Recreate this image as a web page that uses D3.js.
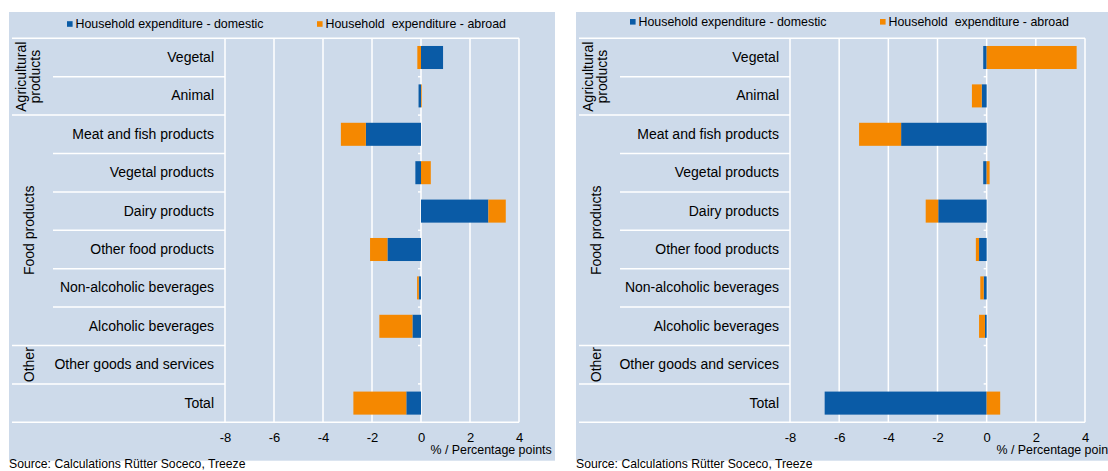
<!DOCTYPE html>
<html>
<head>
<meta charset="utf-8">
<script src="https://cdn.jsdelivr.net/npm/d3@7"></script>
<style>
  html, body { margin: 0; padding: 0; background: #ffffff; }
  svg { display: block; font-family: "Liberation Sans", Arial, sans-serif; }
</style>
</head>
<body>
<svg id="chart" width="1108" height="471"></svg>
<script>
// Product categories, top to bottom
const categories = [
  "Vegetal", "Animal", "Meat and fish products", "Vegetal products",
  "Dairy products", "Other food products", "Non-alcoholic beverages",
  "Alcoholic beverages", "Other goods and services", "Total"
];

// Category groups (label lines, first row index, row count)
const groupLabels = [["Agricultural", "products"], ["Food products"], ["Other"]];
const groupStarts = [0, 2, 8];
const groupSizes  = [2, 6, 1];

// Series names
const seriesNames = ["Household expenditure - domestic", "Household  expenditure - abroad"];

// Left chart values (% / percentage points)
const domesticLeft = [0.9, -0.1, -2.25, -0.23, 2.75, -1.37, -0.09, -0.35, 0, -0.6];
const abroadLeft   = [-0.15, 0.03, -1.02, 0.4, 0.71, -0.71, -0.07, -1.35, 0, -2.16];

// Right chart values (% / percentage points)
const domesticRight = [-0.14, -0.2, -3.48, -0.14, -1.97, -0.31, -0.12, -0.07, 0, -6.59];
const abroadRight   = [3.66, -0.4, -1.71, 0.12, -0.51, -0.13, -0.14, -0.24, 0, 0.55];

// Value axis
const xDomain = [-8, 4];
const xTicks = [-8, -6, -4, -2, 0, 2, 4];
const axisTitle = "% / Percentage points";
const sourceText = "Source: Calculations Rütter Soceco, Treeze";

const COLORS = ["#0a5ba6", "#f58800"];
const BG = "#cddaea";
const svg = d3.select("#chart");

function drawPanel(cfg) {
  const g = svg.append("g");
  const top = 38.3, bottom = 422.3;

  // panel background
  g.append("rect")
    .attr("x", cfg.panelLeft).attr("y", 12)
    .attr("width", cfg.panelWidth).attr("height", 448.7)
    .attr("fill", BG);

  const x = d3.scaleLinear().domain(xDomain).range([cfg.plotLeft, cfg.plotRight]);
  const y = d3.scaleBand().domain(categories).range([top, bottom])
    .paddingInner(0.4).paddingOuter(0.2);
  const step = y.step();

  // vertical gridlines
  g.append("g").selectAll("line").data(xTicks).join("line")
    .attr("x1", d => x(d)).attr("x2", d => x(d))
    .attr("y1", top).attr("y2", bottom)
    .attr("stroke", "#fff").attr("stroke-width", 1.5);

  // row separators in the label column (full width at group edges)
  const fullEdges = new Set([0, 10]);
  groupStarts.forEach((s, i) => { fullEdges.add(s); fullEdges.add(s + groupSizes[i]); });
  const edges = d3.range(0, categories.length + 1);
  g.append("g").selectAll("line").data(edges).join("line")
    .attr("x1", d => fullEdges.has(d) ? cfg.panelLeft + 3 : cfg.panelLeft + 44)
    .attr("x2", d => (d === 0 || d === 10) ? cfg.plotRight : cfg.plotLeft)
    .attr("y1", d => top + d * step).attr("y2", d => top + d * step)
    .attr("stroke", "#fff").attr("stroke-width", 1.5);

  // small tick marks on the zero line
  g.append("g").selectAll("line").data(d3.range(1, categories.length)).join("line")
    .attr("x1", x(0) - 3).attr("x2", x(0))
    .attr("y1", d => top + d * step).attr("y2", d => top + d * step)
    .attr("stroke", "#fff").attr("stroke-width", 1.5);

  // diverging stacked bars
  const rows = categories.map((c, i) => ({ cat: c, domestic: cfg.domestic[i], abroad: cfg.abroad[i] }));
  const stack = d3.stack().keys(["domestic", "abroad"]).offset(d3.stackOffsetDiverging);
  const layers = stack(rows);
  g.append("g").selectAll("g").data(layers).join("g")
    .attr("fill", (d, i) => COLORS[i])
    .selectAll("rect").data(d => d).join("rect")
      .attr("x", d => x(Math.min(d[0], d[1])))
      .attr("width", d => Math.abs(x(d[1]) - x(d[0])))
      .attr("y", d => y(d.data.cat))
      .attr("height", y.bandwidth());

  // category labels
  const yAxis = g.append("g")
    .attr("transform", `translate(${cfg.plotLeft},0)`)
    .call(d3.axisLeft(y).tickSize(0).tickPadding(11));
  yAxis.select(".domain").remove();
  yAxis.selectAll("text").attr("font-size", 14).attr("fill", "#000")
    .attr("font-family", "Liberation Sans, Arial, sans-serif");

  // group labels (rotated)
  groupLabels.forEach((lines, i) => {
    const cy = top + (groupStarts[i] + groupSizes[i] / 2) * step;
    const t = g.append("text")
      .attr("transform", `translate(0,${cy}) rotate(-90)`)
      .attr("text-anchor", "middle").attr("font-size", 14).attr("fill", "#000");
    if (lines.length === 1) {
      t.append("tspan").attr("x", 0).attr("y", cfg.panelLeft + 20)
        .attr("dominant-baseline", "central").text(lines[0]);
    } else {
      lines.forEach((ln, k) => {
        t.append("tspan").attr("x", 0).attr("y", cfg.panelLeft + 12 + k * 14)
          .attr("dominant-baseline", "central").text(ln);
      });
    }
  });

  // value axis labels
  const xAxis = g.append("g")
    .attr("transform", `translate(0,${bottom})`)
    .call(d3.axisBottom(x).tickValues(xTicks).tickSize(0).tickPadding(10.5)
      .tickFormat(d => d < 0 ? "-" + Math.abs(d) : String(d)));
  xAxis.select(".domain").remove();
  xAxis.selectAll("text").attr("font-size", 13).attr("fill", "#000")
    .attr("font-family", "Liberation Sans, Arial, sans-serif");

  g.append("text")
    .attr("x", cfg.plotRight + 32.7).attr("y", 454.4)
    .attr("text-anchor", "end").attr("font-size", 12.4).attr("fill", "#000")
    .text(axisTitle);

  // legend
  const legendY = cfg.legendY;
  cfg.legendX.forEach((lx, i) => {
    g.append("rect").attr("x", lx).attr("y", legendY - 2.8)
      .attr("width", 5.6).attr("height", 5.6).attr("fill", COLORS[i]);
    g.append("text").attr("x", lx + 8.5).attr("y", legendY)
      .attr("dominant-baseline", "central")
      .attr("font-size", 12.4).attr("fill", "#000")
      .attr("xml:space", "preserve").style("white-space", "pre")
      .text(seriesNames[i]);
  });

  // source note
  g.append("text")
    .attr("x", cfg.panelLeft).attr("y", 464.4)
    .attr("dominant-baseline", "central")
    .attr("font-size", 12.2).attr("fill", "#000")
    .text(sourceText);
}

drawPanel({
  panelLeft: 9, panelWidth: 546, plotLeft: 225, plotRight: 519,
  legendX: [67, 317], legendY: 24,
  domestic: domesticLeft, abroad: abroadLeft
});

drawPanel({
  panelLeft: 576, panelWidth: 545, plotLeft: 790, plotRight: 1085,
  legendX: [630, 880], legendY: 21.8,
  domestic: domesticRight, abroad: abroadRight
});
</script>
</body>
</html>
